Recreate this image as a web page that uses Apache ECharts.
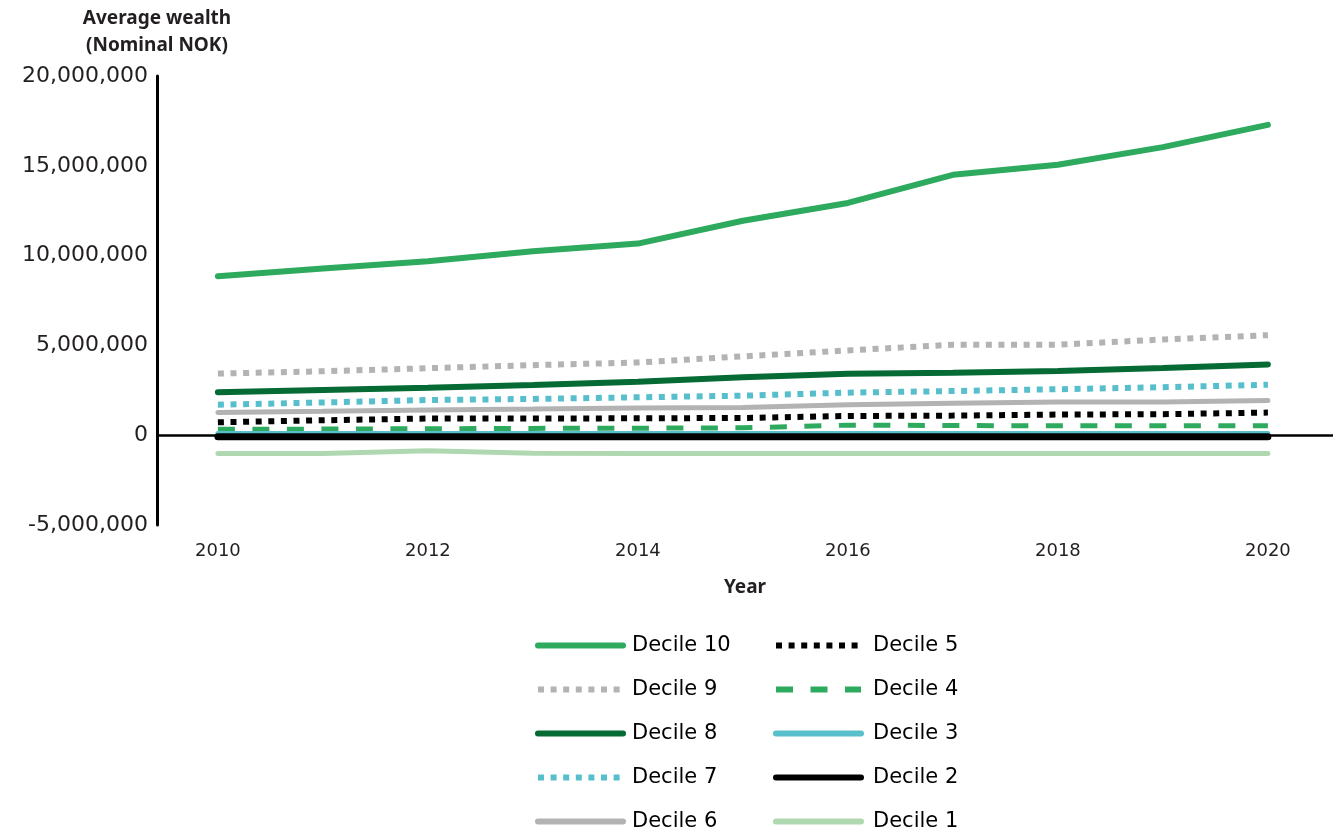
<!DOCTYPE html>
<html>
<head>
<meta charset="utf-8">
<script src="https://cdn.jsdelivr.net/npm/echarts@6/dist/echarts.min.js"></script>
<style>
html,body{margin:0;padding:0;background:#fff;}
#c{width:1335px;height:831px;}
</style>
</head>
<body>
<div id="c"></div>
<script>
const years = [2010, 2011, 2012, 2013, 2014, 2015, 2016, 2017, 2018, 2019, 2020];
const xTicks = [2010, 2012, 2014, 2016, 2018, 2020];
const yTicks = [-5000000, 0, 5000000, 10000000, 15000000, 20000000];
const decile10 = [8850000, 9280000, 9680000, 10240000, 10670000, 11940000, 12930000, 14500000, 15060000, 16040000, 17280000];
const decile9 = [3430000, 3560000, 3730000, 3900000, 4050000, 4390000, 4720000, 5040000, 5040000, 5330000, 5570000];
const decile8 = [2390000, 2520000, 2640000, 2800000, 2970000, 3220000, 3420000, 3480000, 3570000, 3740000, 3940000];
const decile7 = [1700000, 1820000, 1960000, 2020000, 2110000, 2200000, 2370000, 2460000, 2560000, 2670000, 2810000];
const decile6 = [1260000, 1330000, 1410000, 1460000, 1520000, 1540000, 1700000, 1780000, 1850000, 1850000, 1930000];
const decile5 = [720000, 830000, 930000, 930000, 940000, 960000, 1070000, 1090000, 1150000, 1170000, 1260000];
const decile4 = [330000, 340000, 360000, 380000, 390000, 410000, 560000, 540000, 520000, 520000, 520000];
const decile3 = [100000, 100000, 100000, 100000, 100000, 100000, 100000, 100000, 100000, 100000, 100000];
const decile2 = [-80000, -80000, -80000, -80000, -80000, -80000, -80000, -80000, -80000, -80000, -80000];
const decile1 = [-1020000, -1020000, -870000, -1000000, -1020000, -1020000, -1020000, -1020000, -1020000, -1020000, -1020000];
const legendCol1 = ['Decile 10', 'Decile 9', 'Decile 8', 'Decile 7', 'Decile 6'];
const legendCol2 = ['Decile 5', 'Decile 4', 'Decile 3', 'Decile 2', 'Decile 1'];

const FONT = '"DejaVu Sans", sans-serif';
const TFONT = '"Noto Sans", sans-serif';
const TXT = '#231f20';

function pts(arr){ return years.map((y,i)=>[y, arr[i]]); }
function mk(name, arr, color, width, type, extra){
  return Object.assign({
    name: name, type: 'line', data: pts(arr), symbol: 'none', smooth: false,
    lineStyle: {color: color, width: width, type: type, cap: type === 'solid' ? 'round' : 'butt'},
    itemStyle: {color: color},
    emphasis: {disabled: true}, animation: false
  }, extra || {});
}
const DOT = [6, 6.6];
const DASH = [17, 17.5];

const series = [
  mk('Decile 10', decile10, '#2eaa5e', 6, 'solid'),
  mk('Decile 9', decile9, '#b3b3b3', 6, DOT),
  mk('Decile 8', decile8, '#056a33', 6, 'solid'),
  mk('Decile 7', decile7, '#56bfcb', 6, DOT),
  mk('Decile 6', decile6, '#b3b3b3', 5, 'solid'),
  mk('Decile 5', decile5, '#000000', 6, DOT),
  mk('Decile 4', decile4, '#2eaa5e', 5, DASH),
  mk('Decile 3', decile3, '#58bfcb', 5, 'solid'),
  mk('Decile 2', decile2, '#000000', 7, 'solid', {
    markLine: {silent: true, symbol: 'none', label: {show: false},
      lineStyle: {color: '#000', width: 2.5, type: 'solid'},
      data: [{yAxis: 0}], animation: false}
  }),
  mk('Decile 1', decile1, '#afd8b0', 5, 'solid')
];

function legend(left, names, padLeft){
  return {
    orient: 'vertical', left: left, top: 635, height: 240, padding: 0,
    itemWidth: 85, itemHeight: 20, itemGap: 23,
    itemStyle: {opacity: 0, borderWidth: 0},
    lineStyle: {width: 6},
    textStyle: {fontFamily: FONT, fontSize: 21, color: '#000', padding: [0,0,0,padLeft]},
    selectedMode: false,
    data: names
  };
}

const chart = echarts.init(document.getElementById('c'), null, {renderer: 'canvas'});
chart.setOption({
  animation: false,
  backgroundColor: '#fff',
  grid: {left: 157, right: 2, top: 76, bottom: 306},
  legend: [legend(535, legendCol1, 4), legend(773, legendCol2, 7)],
  xAxis: {
    type: 'value', min: 2009.42, max: 2020.62,
    axisLine: {show: false}, axisTick: {show: false}, splitLine: {show: false},
    axisLabel: {customValues: xTicks, margin: 17, fontFamily: FONT, fontSize: 18, color: TXT,
      formatter: v => String(v)},
    name: 'Year', nameLocation: 'middle', nameGap: 53,
    nameTextStyle: {fontFamily: TFONT, fontSize: 19, fontWeight: 'bold', color: TXT}
  },
  yAxis: {
    type: 'value', min: -5000000, max: 20000000, interval: 5000000,
    axisLine: {show: true, lineStyle: {color: '#000', width: 3}},
    axisTick: {show: false}, splitLine: {show: false},
    axisLabel: {customValues: yTicks, margin: 9, fontFamily: FONT, fontSize: 22, color: TXT,
      formatter: v => v.toLocaleString('en-US')},
    name: 'Average wealth\n(Nominal NOK)', nameLocation: 'end', nameGap: 17,
    nameTextStyle: {fontFamily: TFONT, fontSize: 19, fontWeight: 'bold', color: TXT, align: 'center', lineHeight: 27}
  },
  series: series
});
</script>
</body>
</html>
